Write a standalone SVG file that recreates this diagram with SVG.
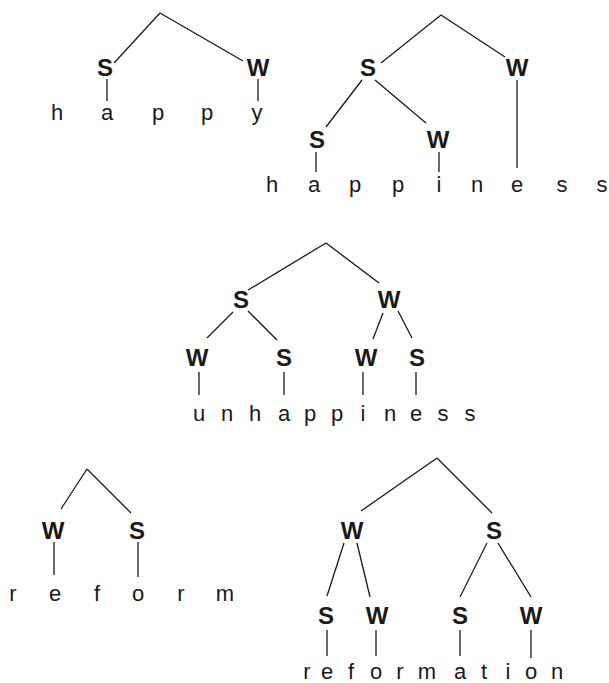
<svg xmlns="http://www.w3.org/2000/svg" width="609" height="683" viewBox="0 0 609 683">
<style>
.lab{font-family:"Liberation Sans",Arial,sans-serif;font-weight:bold;font-size:24px;fill:#1a1a1a;text-anchor:middle}
.let{font-family:"Liberation Sans",Arial,sans-serif;font-size:22px;fill:#1a1a1a;text-anchor:middle}
.c line{stroke:#1a1a1a;stroke-width:1.3;fill:none}
</style>
<rect width="609" height="683" fill="#fff"/>
<g id="connectors" class="c">
<line x1="160" y1="13" x2="114" y2="63"/>
<line x1="160" y1="13" x2="243" y2="61"/>
<line x1="107" y1="79" x2="107" y2="101"/>
<line x1="258" y1="79" x2="258" y2="101"/>
<line x1="441" y1="15" x2="381" y2="63"/>
<line x1="441" y1="15" x2="505" y2="57"/>
<line x1="362" y1="80" x2="326" y2="127"/>
<line x1="375" y1="80" x2="426" y2="123"/>
<line x1="517" y1="80" x2="517" y2="168"/>
<line x1="316" y1="152" x2="316" y2="172"/>
<line x1="439" y1="152" x2="439" y2="172"/>
<line x1="326" y1="243" x2="248" y2="290"/>
<line x1="326" y1="243" x2="379" y2="283"/>
<line x1="233" y1="312" x2="207" y2="338"/>
<line x1="248" y1="311" x2="277" y2="340"/>
<line x1="383" y1="313" x2="373" y2="339"/>
<line x1="398" y1="311" x2="412" y2="338"/>
<line x1="199" y1="372" x2="199" y2="395"/>
<line x1="284" y1="372" x2="284" y2="395"/>
<line x1="363" y1="372" x2="363" y2="395"/>
<line x1="416" y1="372" x2="416" y2="395"/>
<line x1="87" y1="469" x2="61" y2="509"/>
<line x1="87" y1="469" x2="131" y2="513"/>
<line x1="54" y1="542" x2="54" y2="575"/>
<line x1="138" y1="542" x2="138" y2="577"/>
<line x1="437" y1="458" x2="361" y2="511"/>
<line x1="437" y1="458" x2="492" y2="513"/>
<line x1="344" y1="543" x2="327" y2="596"/>
<line x1="357" y1="543" x2="370" y2="597"/>
<line x1="487" y1="543" x2="460" y2="597"/>
<line x1="498" y1="543" x2="531" y2="597"/>
<line x1="327" y1="630" x2="327" y2="656"/>
<line x1="376" y1="630" x2="376" y2="656"/>
<line x1="460" y1="630" x2="460" y2="656"/>
<line x1="531" y1="630" x2="531" y2="658"/>
</g>
<g id="t1-S"><text class="lab" x="105" y="76">S</text></g>
<g id="t1-W"><text class="lab" x="258" y="76">W</text></g>
<g id="t1-word">
<text class="let" x="57" y="120">h</text><text class="let" x="107" y="120">a</text><text class="let" x="158" y="120">p</text><text class="let" x="207" y="120">p</text><text class="let" x="257" y="120">y</text>
</g>
<g id="t2-S"><text class="lab" x="368" y="76">S</text></g>
<g id="t2-W"><text class="lab" x="517" y="76">W</text></g>
<g id="t2-SS"><text class="lab" x="317" y="148">S</text></g>
<g id="t2-SW"><text class="lab" x="438" y="148">W</text></g>
<g id="t2-word">
<text class="let" x="272" y="192">h</text><text class="let" x="314" y="192">a</text><text class="let" x="355" y="192">p</text><text class="let" x="398" y="192">p</text><text class="let" x="439" y="192">i</text><text class="let" x="477" y="192">n</text><text class="let" x="517" y="192">e</text><text class="let" x="562" y="192">s</text><text class="let" x="602" y="192">s</text>
</g>
<g id="t3-S"><text class="lab" x="241" y="308">S</text></g>
<g id="t3-W"><text class="lab" x="389" y="308">W</text></g>
<g id="t3-SW"><text class="lab" x="197" y="366">W</text></g>
<g id="t3-SS"><text class="lab" x="284" y="366">S</text></g>
<g id="t3-WW"><text class="lab" x="366" y="366">W</text></g>
<g id="t3-WS"><text class="lab" x="417" y="366">S</text></g>
<g id="t3-word">
<text class="let" x="199" y="421">u</text><text class="let" x="227" y="421">n</text><text class="let" x="255" y="421">h</text><text class="let" x="284" y="421">a</text><text class="let" x="310" y="421">p</text><text class="let" x="337" y="421">p</text><text class="let" x="363" y="421">i</text><text class="let" x="390" y="421">n</text><text class="let" x="416" y="421">e</text><text class="let" x="443" y="421">s</text><text class="let" x="470" y="421">s</text>
</g>
<g id="t4-W"><text class="lab" x="53" y="539">W</text></g>
<g id="t4-S"><text class="lab" x="137" y="539">S</text></g>
<g id="t4-word">
<text class="let" x="13" y="601">r</text><text class="let" x="55" y="601">e</text><text class="let" x="97" y="601">f</text><text class="let" x="138" y="601">o</text><text class="let" x="181" y="601">r</text><text class="let" x="225" y="601">m</text>
</g>
<g id="t5-W"><text class="lab" x="352" y="539">W</text></g>
<g id="t5-S"><text class="lab" x="494" y="539">S</text></g>
<g id="t5-WS"><text class="lab" x="326" y="624">S</text></g>
<g id="t5-WW"><text class="lab" x="377" y="624">W</text></g>
<g id="t5-SS"><text class="lab" x="460" y="624">S</text></g>
<g id="t5-SW"><text class="lab" x="531" y="624">W</text></g>
<g id="t5-word">
<text class="let" x="307" y="679">r</text><text class="let" x="327" y="679">e</text><text class="let" x="351" y="679">f</text><text class="let" x="376" y="679">o</text><text class="let" x="400" y="679">r</text><text class="let" x="427" y="679">m</text><text class="let" x="460" y="679">a</text><text class="let" x="484" y="679">t</text><text class="let" x="508" y="679">i</text><text class="let" x="531" y="679">o</text><text class="let" x="557" y="679">n</text>
</g>
</svg>
